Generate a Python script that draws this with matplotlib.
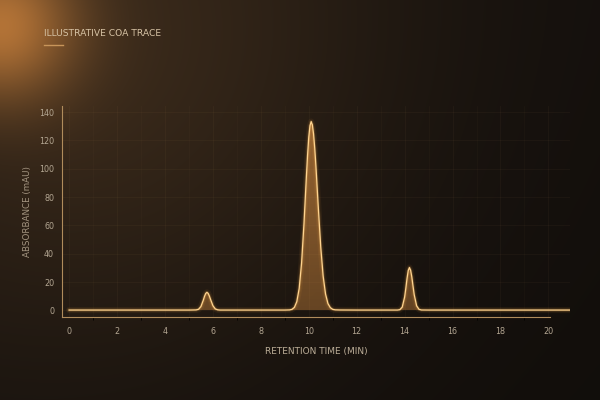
import matplotlib
matplotlib.use("Agg")
import matplotlib.pyplot as plt
import numpy as np

# retention time (min) and absorbance (mAU)
rt_min = [0, 1, 2, 3, 4, 5, 5.3, 5.4, 5.5, 5.6, 5.65, 5.7, 5.75, 5.8, 5.85,
          5.9, 6.0, 6.1, 6.2, 6.3, 7, 8, 9, 9.2, 9.3, 9.4, 9.5, 9.6, 9.7,
          9.8, 9.9, 9.95, 10.0, 10.05, 10.1, 10.15, 10.2, 10.25, 10.3, 10.4,
          10.5, 10.6, 10.7, 10.8, 10.9, 11.0, 11.1, 11.3, 12, 13, 13.7, 13.8,
          13.9, 14.0, 14.05, 14.1, 14.15, 14.2, 14.25, 14.3, 14.35, 14.4,
          14.5, 14.6, 14.7, 15, 16, 17, 18, 19, 20, 20.9]
absorbance = [0.3, 0.3, 0.3, 0.3, 0.3, 0.3, 0.4, 0.85, 2.8, 7.3, 10.0, 12.0,
              12.8, 12.1, 10.3, 7.9, 3.4, 1.1, 0.45, 0.3, 0.3, 0.3, 0.3, 0.4,
              0.8, 2.2, 6.2, 15.5, 33.5, 61.2, 94.3, 109.7, 122.3, 130.4,
              133.3, 131.0, 124.5, 114.3, 101.4, 72.0, 44.7, 24.2, 11.6, 4.9,
              2.0, 0.8, 0.45, 0.35, 0.3, 0.3, 0.3, 0.56, 2.4, 9.5, 15.7, 22.6,
              28.2, 30.3, 28.4, 23.6, 17.2, 11.1, 3.3, 0.8, 0.35, 0.3, 0.3,
              0.3, 0.3, 0.3, 0.3, 0.3]

x_ticks = [0, 2, 4, 6, 8, 10, 12, 14, 16, 18, 20]
y_ticks = [0, 20, 40, 60, 80, 100, 120, 140]

title = "ILLUSTRATIVE COA TRACE"
xlabel = "RETENTION TIME (MIN)"
ylabel = "ABSORBANCE (mAU)"

plt.rcParams["font.family"] = ["DejaVu Sans"]

fig = plt.figure(figsize=(6, 4), dpi=100)

# background with warm glow in the top-left corner
bg = fig.add_axes([0, 0, 1, 1], zorder=-10)
h, w = 400, 600
yy, xx = np.mgrid[0:h, 0:w]
r1 = np.hypot(xx - 0, yy - 25)
r2 = np.hypot(xx - 80, yy - 40)
base = np.array([0.075, 0.06, 0.048])
haze = np.array([0.14, 0.095, 0.05])
glow = np.array([0.48, 0.29, 0.11])
fade = np.clip(1 - (xx / w) * 0.35 - (yy / h) * 0.25, 0, 1)[..., None]
img = (base[None, None, :] * (0.7 + 0.5 * fade)
       + haze * np.exp(-(r2 / 300) ** 2)[..., None]
       + glow * np.exp(-(r1 / 75) ** 2)[..., None])
bg.imshow(np.clip(img, 0, 1), aspect="auto", extent=(0, 1, 0, 1))
bg.axis("off")

ax = fig.add_axes([0.104, 0.2075, 0.846, 0.5275])
ax.patch.set_alpha(0)
ax.set_xlim(-0.28, 20.9)
ax.set_ylim(-4.6, 144.3)

x = np.array(rt_min)
y = np.array(absorbance)

# gradient fill under the trace
fill = ax.fill_between(x, 0, y, color="none", lw=0)
grad = np.linspace(0, 1, 256)[:, None]
rgba = np.zeros((256, 1, 4))
rgba[..., 0] = 0.88
rgba[..., 1] = 0.58
rgba[..., 2] = 0.27
rgba[..., 3] = 0.38 + 0.22 * grad
im = ax.imshow(rgba, aspect="auto", origin="lower",
               extent=(-0.28, 20.9, 0, 135), zorder=2)
im.set_clip_path(fill.get_paths()[0], transform=ax.transData)

# glowing trace
ax.plot(x, y, color="#f0a040", lw=4.5, alpha=0.07, zorder=3,
        solid_capstyle="round")
ax.plot(x, y, color="#f5b050", lw=2.2, alpha=0.22, zorder=3)
ax.plot(x, y, color="#ffd490", lw=0.9, zorder=4)

ax.set_xticks(x_ticks)
ax.set_yticks(y_ticks)
ax.tick_params(length=0, colors="#b3a692", labelsize=5.8)
ax.tick_params(axis="x", pad=7)
ax.tick_params(axis="y", pad=6)
ax.grid(True, color="#e0b070", alpha=0.05, lw=0.6)
ax.set_xticks(np.arange(0, 21, 1), minor=True)
ax.grid(True, which="minor", axis="x", color="#e0b070", alpha=0.03, lw=0.6)

for s in ["top", "right"]:
    ax.spines[s].set_visible(False)
ax.spines["left"].set_color("#b08c5c")
ax.spines["bottom"].set_color("#b08c5c")
ax.spines["left"].set_linewidth(0.8)
ax.spines["bottom"].set_linewidth(0.8)
ax.spines["bottom"].set_bounds(-0.28, 20.05)

ax.set_xlabel(xlabel, color="#bcae98", fontsize=6.5, labelpad=8)
ax.set_ylabel(ylabel, color="#a39480", fontsize=6.3, labelpad=5)

fig.text(44 / 600, 1 - 34 / 400, title, color="#d6c2a4", fontsize=6.6,
         va="center", ha="left")
fig.add_artist(plt.Line2D([44 / 600, 63 / 600], [1 - 45 / 400, 1 - 45 / 400],
                          color="#c8955a", lw=1.0))

fig.savefig("out.png", dpi=100)
